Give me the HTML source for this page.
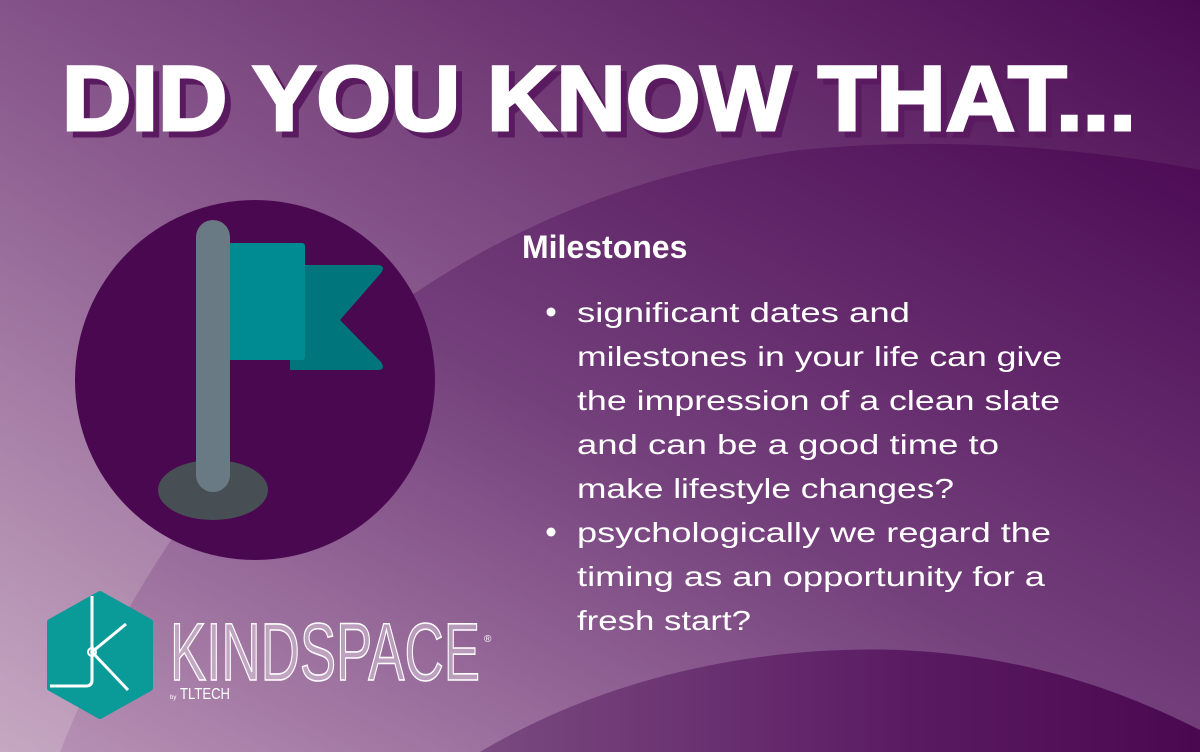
<!DOCTYPE html>
<html><head><meta charset="utf-8"><style>
html,body{margin:0;padding:0;width:1200px;height:752px;overflow:hidden}
svg{display:block}
text{font-family:"Liberation Sans",sans-serif}
</style></head><body>
<svg width="1200" height="752" viewBox="0 0 1200 752">
<defs>
<linearGradient id="bg" x1="0" y1="1" x2="1" y2="0">
<stop offset="0" stop-color="#c6a8c2"/><stop offset="0.45" stop-color="#8a5a8e"/><stop offset="1" stop-color="#4a0a52"/>
</linearGradient>
<linearGradient id="bg2" x1="0" y1="1" x2="1" y2="0">
<stop offset="0" stop-color="#b690b4"/><stop offset="0.5" stop-color="#74407c"/><stop offset="1" stop-color="#4c0a54"/>
</linearGradient>
<linearGradient id="bg3" x1="0" y1="0" x2="1" y2="0">
<stop offset="0" stop-color="#7a4a80"/><stop offset="0.6" stop-color="#5a1a62"/><stop offset="1" stop-color="#4a0850"/>
</linearGradient>
</defs>
<rect width="1200" height="752" fill="url(#bg)"/>
<path d="M60,752 C180,450 420,200 800,150 C950,135 1100,150 1200,170 L1200,752 Z" fill="url(#bg2)"/>
<path d="M480,752 C600,680 750,645 900,650 C1040,656 1140,700 1200,730 L1200,752 Z" fill="url(#bg3)"/>

<g>
<text x="68" y="136" font-size="92" font-weight="bold" fill="#5a1a60" stroke="#5a1a60" stroke-width="3" textLength="1074" lengthAdjust="spacingAndGlyphs">DID YOU KNOW THAT...</text>
<text x="62" y="130" font-size="92" font-weight="bold" fill="#ffffff" stroke="#ffffff" stroke-width="3" textLength="1074" lengthAdjust="spacingAndGlyphs">DID YOU KNOW THAT...</text>
</g>

<g>
<circle cx="255" cy="380" r="180" fill="#4a0850"/>
<ellipse cx="213" cy="490" rx="55" ry="30" fill="#474f55"/>
<path d="M290,265 H378 Q386,266 381,273 L340,320 L381,362 Q386,370 378,370 H290 Z" fill="#00767c"/>
<rect x="225" y="243" width="80" height="117" rx="3" fill="#008b93"/>
<rect x="196" y="220" width="34" height="272" rx="17" fill="#6a7a84"/>
</g>

<text x="522" y="258" font-size="32" font-weight="bold" fill="#ffffff">Milestones</text>
<g fill="#ffffff" font-size="28">
<circle cx="551" cy="312" r="4.5"/>
<circle cx="551" cy="532" r="4.5"/>
<text x="577" y="322" textLength="333" lengthAdjust="spacingAndGlyphs">significant dates and</text>
<text x="577" y="366" textLength="485" lengthAdjust="spacingAndGlyphs">milestones in your life can give</text>
<text x="577" y="410" textLength="483" lengthAdjust="spacingAndGlyphs">the impression of a clean slate</text>
<text x="577" y="454" textLength="422" lengthAdjust="spacingAndGlyphs">and can be a good time to</text>
<text x="577" y="498" textLength="377" lengthAdjust="spacingAndGlyphs">make lifestyle changes?</text>
<text x="577" y="542" textLength="474" lengthAdjust="spacingAndGlyphs">psychologically we regard the</text>
<text x="577" y="586" textLength="468" lengthAdjust="spacingAndGlyphs">timing as an opportunity for a</text>
<text x="577" y="630" textLength="174" lengthAdjust="spacingAndGlyphs">fresh start?</text>
</g>

<g>
<path d="M100,594 L150,622 L150,688 L100,716 L50,688 L50,622 Z" fill="#0a9a98" stroke="#0a9a98" stroke-width="6" stroke-linejoin="round"/>
<path d="M92,596 V680 Q92,686 86,686 H50" stroke="#fff" stroke-width="3" fill="none"/>
<path d="M126,624 L92,652 L128,690" stroke="#fff" stroke-width="3" fill="none"/>
<circle cx="92" cy="652" r="4" fill="none" stroke="#fff" stroke-width="2"/>
<text x="170" y="680" font-size="82" fill="#fff" fill-opacity="0.35" stroke="#fff" stroke-width="1.6" textLength="310" lengthAdjust="spacingAndGlyphs">KINDSPACE</text>
<text x="484" y="642" font-size="10" fill="#fff">®</text>
<text x="170" y="699" font-size="6" fill="#fff">by</text>
<text x="180" y="699" font-size="16" fill="#fff" textLength="50" lengthAdjust="spacingAndGlyphs">TLTECH</text>
</g>
</svg>
</body></html>
